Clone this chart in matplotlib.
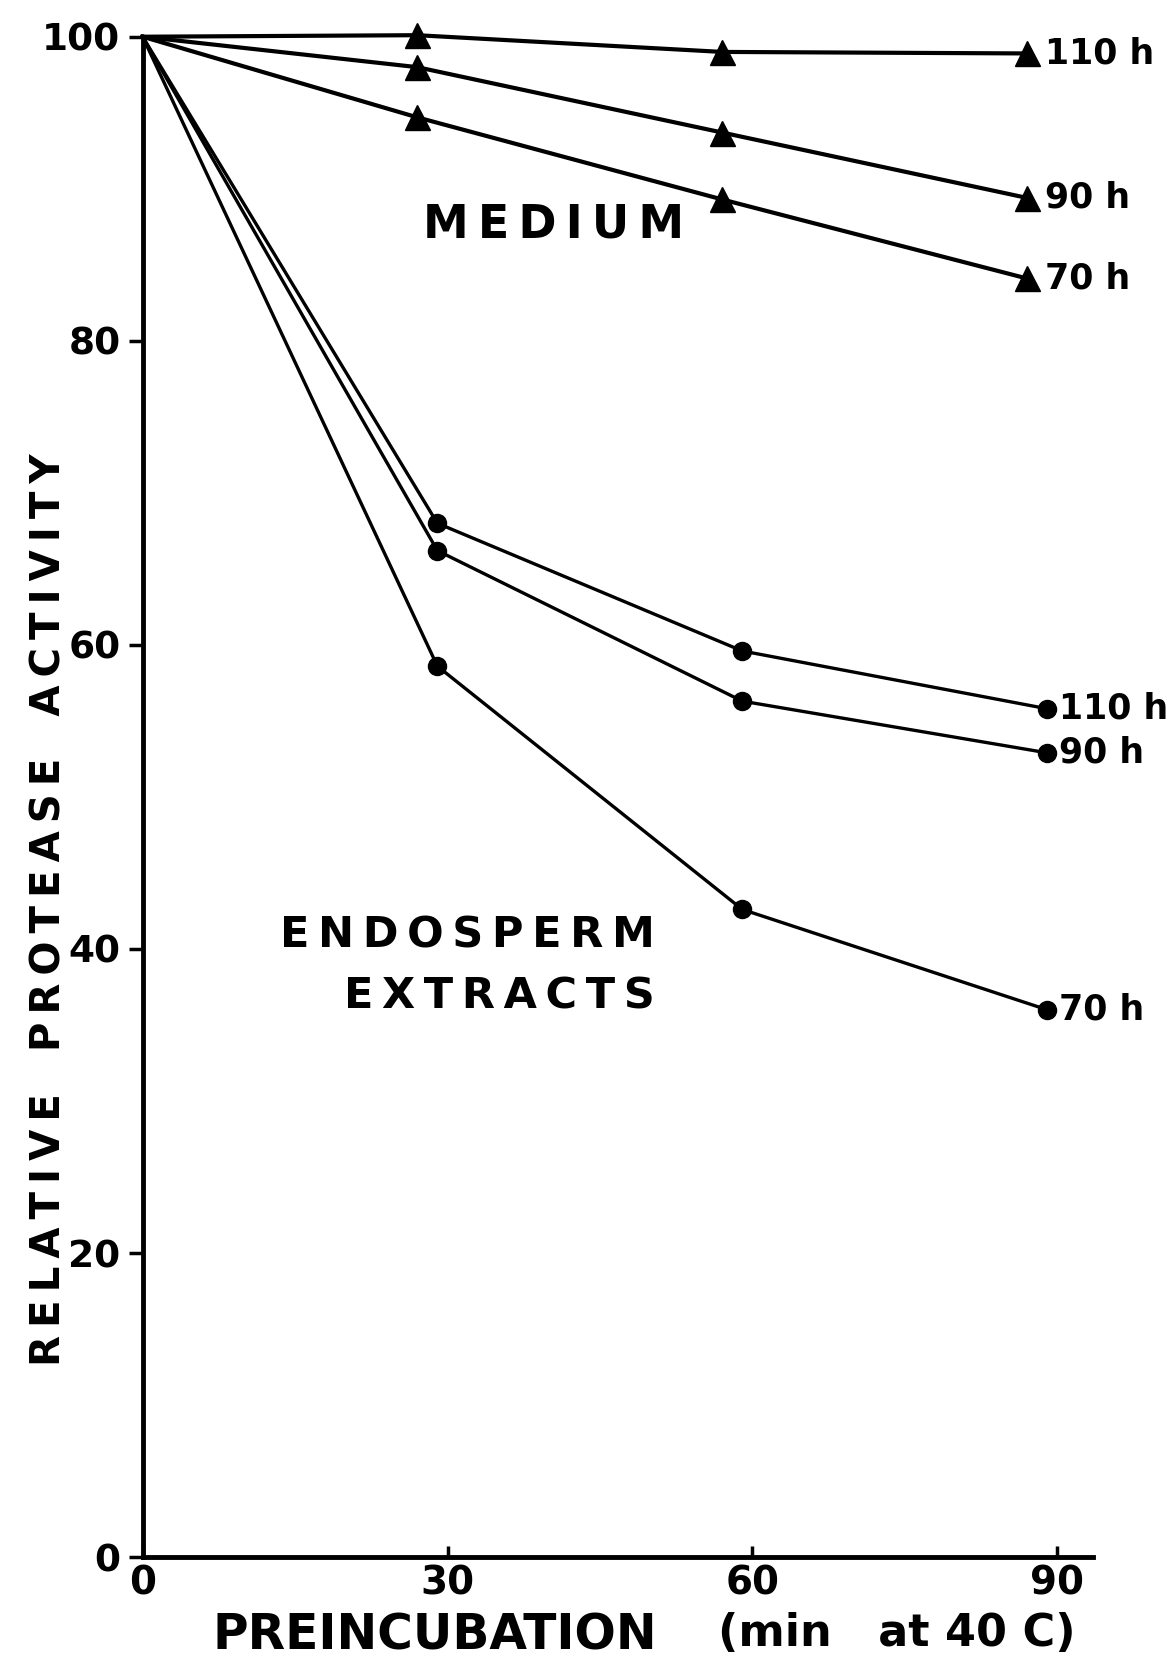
#!/usr/bin/env python3

import matplotlib
matplotlib.use("Agg")
import matplotlib.pyplot as pyplot

FIG_SIZE = (11.69, 16.69)
DPI = 100

# preincubation time (min at 40 C)
xMedium = [0, 27, 57, 87]
xEndosperm = [0, 29, 59, 89]

# relative protease activity (%)
medium110 = [100, 100.1, 99.0, 98.9]
medium90 = [100, 98.0, 93.7, 89.4]
medium70 = [100, 94.7, 89.3, 84.1]
endo110 = [100, 68.0, 59.6, 55.8]
endo90 = [100, 66.2, 56.3, 52.9]
endo70 = [100, 58.6, 42.6, 36.0]

mediumSeries = [("110 h", medium110), ("90 h", medium90), ("70 h", medium70)]
endoSeries = [("110 h", endo110), ("90 h", endo90), ("70 h", endo70)]

xTicks = [0, 30, 60, 90]
yTicks = [0, 20, 40, 60, 80, 100]

FONT = "DejaVu Sans"
THIN = "\u2009"


def spaced(text):
    """Letter-space words the way the stencil lettering does."""
    return "   ".join(THIN.join(word) for word in text.split())


figure = pyplot.figure(figsize=FIG_SIZE, dpi=DPI)
ax = figure.add_axes([0.122, 0.067, 0.813, 0.911])

for label, y in mediumSeries:
    ax.plot(xMedium, y, "k-", lw=3, marker="^", ms=18, markevery=[1, 2, 3], clip_on=False)
    ax.text(xMedium[-1] + 1.8, y[-1], label, fontsize=25, fontweight="bold",
            family=FONT, ha="left", va="center")

for label, y in endoSeries:
    ax.plot(xEndosperm, y, "k-", lw=2.4, marker="o", ms=13, markevery=[1, 2, 3], clip_on=False)
    ax.text(xEndosperm[-1] + 1.2, y[-1], label, fontsize=25, fontweight="bold",
            family=FONT, ha="left", va="center")

ax.text(40.4, 87.6, spaced("MEDIUM"), fontsize=33, fontweight="bold", family=FONT,
        ha="center", va="center")
ax.text(32.0, 40.9, spaced("ENDOSPERM"), fontsize=31, fontweight="bold", family=FONT,
        ha="center", va="center")
ax.text(35.1, 36.9, spaced("EXTRACTS"), fontsize=31, fontweight="bold", family=FONT,
        ha="center", va="center")

ax.set_xlim(0, 93.5)
ax.set_ylim(0, 100)
ax.set_xticks(xTicks)
ax.set_yticks(yTicks)
ax.tick_params(axis="x", direction="in", length=8, width=2.5, pad=5, labelsize=28)
ax.tick_params(axis="y", direction="out", length=10, width=2.5, pad=6, labelsize=27)
for lab in ax.get_xticklabels() + ax.get_yticklabels():
    lab.set_fontweight("bold")
    lab.set_family(FONT)
ax.spines[["top", "right"]].set_visible(False)
ax.spines[["left", "bottom"]].set_linewidth(3.5)

figure.text(0.042, 0.455, spaced("RELATIVE PROTEASE ACTIVITY"),
            rotation=90, fontsize=29, fontweight="bold", family=FONT,
            ha="center", va="center")
figure.text(0.182, 0.020, "PREINCUBATION", fontsize=35, fontweight="bold",
            family=FONT, ha="left", va="center")
figure.text(0.92, 0.021, "(min   at 40 C)", fontsize=32, fontweight="bold",
            family=FONT, ha="right", va="center")

figure.savefig("out.png", dpi=DPI)
